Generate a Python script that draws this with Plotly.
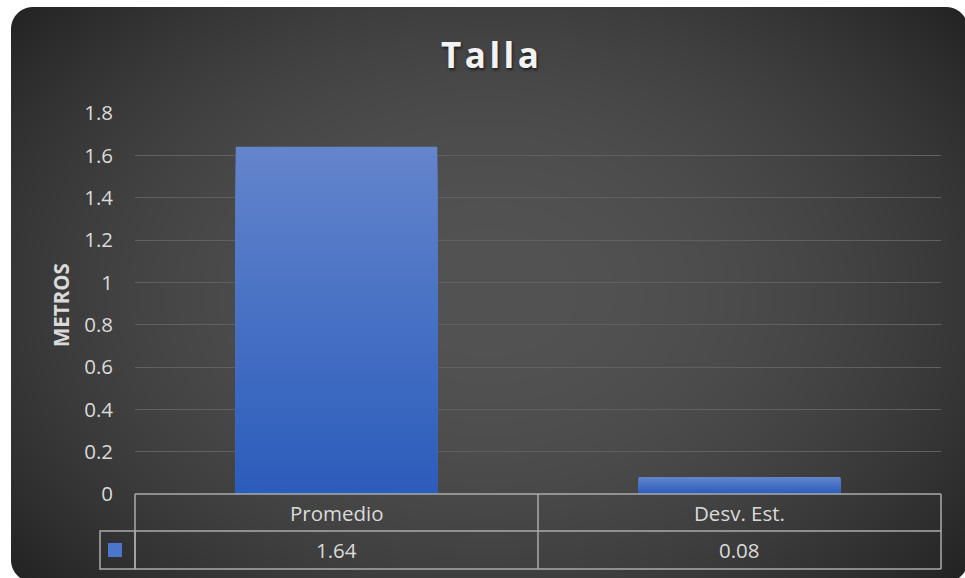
import base64
import struct
import zlib

import numpy as np
import plotly.graph_objects as go

# ---- data -------------------------------------------------------------
categories = ["Promedio", "Desv. Est."]
values = [1.64, 0.08]
value_labels = ["1.64", "0.08"]
y_ticks = [0, 0.2, 0.4, 0.6, 0.8, 1.0, 1.2, 1.4, 1.6, 1.8]
y_tick_labels = ["0", "0.2", "0.4", "0.6", "0.8", "1", "1.2", "1.4", "1.6", "1.8"]
chart_title = "Talla"
y_title = "METROS"

# ---- geometry (pixels) -----------------------------------------------
W, H = 965, 578
ML, MR, MT, MB = 135, 24, 113, 84
PW, PH = W - ML - MR, H - MT - MB


def px_x(px):
    return (px - ML) / PW


def px_y(py):
    return (H - MB - py) / PH


# ---- card background: rounded rect with a radial grey gradient --------
def card_png():
    yy, xx = np.mgrid[0:H, 0:W].astype(float) + 0.5
    r2 = ((xx - 488) / 560) ** 2 + ((yy - 293) / 400) ** 2
    grey = np.clip(83 - 39 * r2, 30, 90)
    x0, y0, x1, y1, rad = 11, 7, 968, 582, 22
    cx, cy = (x0 + x1) / 2, (y0 + y1) / 2
    hx, hy = (x1 - x0) / 2 - rad, (y1 - y0) / 2 - rad
    qx, qy = np.abs(xx - cx) - hx, np.abs(yy - cy) - hy
    d = np.hypot(np.maximum(qx, 0), np.maximum(qy, 0)) + np.minimum(np.maximum(qx, qy), 0) - rad
    alpha = np.clip(0.5 - d, 0, 1)
    rgba = np.zeros((H, W, 4), dtype=np.uint8)
    rgba[..., 0] = rgba[..., 1] = rgba[..., 2] = grey.astype(np.uint8)
    rgba[..., 3] = (alpha * 255).astype(np.uint8)
    raw = b"".join(b"\x00" + rgba[i].tobytes() for i in range(H))

    def chunk(tag, data):
        return struct.pack(">I", len(data)) + tag + data + struct.pack(">I", zlib.crc32(tag + data) & 0xFFFFFFFF)

    png = b"\x89PNG\r\n\x1a\n" + chunk(b"IHDR", struct.pack(">IIBBBBB", W, H, 8, 6, 0, 0, 0))
    png += chunk(b"IDAT", zlib.compress(raw, 9)) + chunk(b"IEND", b"")
    return "data:image/png;base64," + base64.b64encode(png).decode()


fig = go.Figure()

# ---- bars with a vertical blue gradient (stacked overlay slices) -------
top_rgb = np.array([99, 133, 204])
bot_rgb = np.array([44, 93, 188])
steps = 40
for k in range(steps):
    frac = 1 - k / steps
    t = k / (steps - 1)
    col = top_rgb * (1 - t) + bot_rgb * t
    fig.add_trace(go.Bar(
        x=categories,
        y=[v * frac for v in values],
        width=0.5,
        marker=dict(color="rgb(%d,%d,%d)" % tuple(col.astype(int)), line=dict(width=0)),
        showlegend=False,
        hoverinfo="skip",
    ))

# ---- data table under the plot ----------------------------------------
line_col = "#ababab"
lw = 1.5
row_top, row_mid, row_bot = 494, 531, 569
col_x = [135, 538, 941]
shapes = []
for py in (row_top, row_mid, row_bot):
    shapes.append(dict(type="line", xref="paper", yref="paper",
                       x0=px_x(135), x1=px_x(941), y0=px_y(py), y1=px_y(py),
                       line=dict(color=line_col, width=lw)))
for px in col_x:
    shapes.append(dict(type="line", xref="paper", yref="paper",
                       x0=px_x(px), x1=px_x(px), y0=px_y(row_top), y1=px_y(row_bot),
                       line=dict(color=line_col, width=lw)))
# legend key cell
shapes.append(dict(type="rect", xref="paper", yref="paper",
                   x0=px_x(100), x1=px_x(135), y0=px_y(row_mid), y1=px_y(row_bot),
                   line=dict(color=line_col, width=lw), fillcolor="rgba(0,0,0,0)"))
shapes.append(dict(type="rect", xref="paper", yref="paper",
                   x0=px_x(108), x1=px_x(122), y0=px_y(543), y1=px_y(557),
                   line=dict(width=0), fillcolor="#4a76cc"))

text_col = "#dadada"
fs = 20.5
annotations = []
for cat, lab in zip(categories, value_labels):
    annotations.append(dict(x=cat, xref="x", y=px_y((row_top + row_mid) / 2), yref="paper",
                            text=cat, showarrow=False, yanchor="middle",
                            font=dict(family="Open Sans", size=fs, color=text_col)))
    annotations.append(dict(x=cat, xref="x", y=px_y((row_mid + row_bot) / 2), yref="paper",
                            text=lab, showarrow=False, yanchor="middle",
                            font=dict(family="Open Sans", size=fs, color=text_col)))

# chart title (slightly letter-spaced) and axis title
spaced_title = "\u200a".join(chart_title)
annotations.append(dict(x=px_x(490), y=px_y(55), xref="paper", yref="paper",
                        text="<b>%s</b>" % spaced_title, showarrow=False,
                        xanchor="center", yanchor="middle",
                        font=dict(family="Open Sans", size=35, color="#f2f2f2",
                                  shadow="1px 2px 3px rgba(0,0,0,0.6)")))
annotations.append(dict(x=px_x(61), y=px_y(305), xref="paper", yref="paper",
                        text="<b>%s</b>" % y_title, showarrow=False, textangle=-90,
                        xanchor="center", yanchor="middle",
                        font=dict(family="Open Sans", size=fs, color=text_col)))

fig.update_layout(
    width=W, height=H,
    margin=dict(l=ML, r=MR, t=MT, b=MB, pad=0),
    paper_bgcolor="white",
    plot_bgcolor="rgba(0,0,0,0)",
    barmode="overlay",
    bargap=0.5,
    showlegend=False,
    shapes=shapes,
    annotations=annotations,
    images=[dict(source=card_png(), xref="paper", yref="paper",
                 x=px_x(0), y=px_y(0), sizex=W / PW, sizey=H / PH,
                 xanchor="left", yanchor="top", sizing="stretch", layer="below")],
    xaxis=dict(showticklabels=False, showgrid=False, zeroline=False, showline=False,
               ticks="", range=[-0.5, 1.5], fixedrange=True),
    yaxis=dict(range=[0, 1.8], tickvals=y_ticks, ticktext=y_tick_labels,
               showgrid=True, gridcolor="#606060", gridwidth=1, zeroline=False,
               showline=False, ticks="", ticklabelstandoff=21,
               tickfont=dict(family="Open Sans", size=fs, color=text_col),
               fixedrange=True),
)

fig.write_html("out.html", config={"displayModeBar": False})
